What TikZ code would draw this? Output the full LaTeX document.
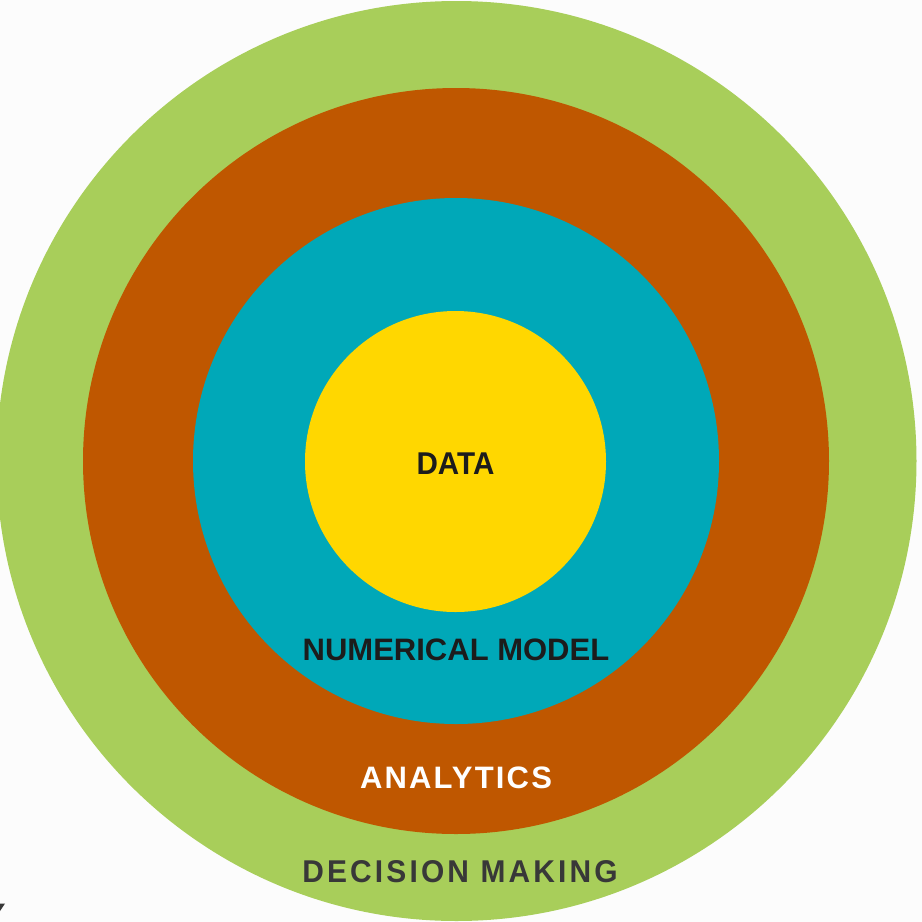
\documentclass[tikz,border=0pt]{standalone}
\usepackage{fontspec}
\setmainfont{Liberation Sans}
\newfontfamily\labelfont{Liberation Sans}[BoldFont={* Bold}]
\newfontfamily\narrowfont{Liberation Sans}[BoldFont={* Bold},FakeStretch=0.94]
\newfontfamily\spacedfont{Liberation Sans}[BoldFont={* Bold},LetterSpace=7]
\newfontfamily\widefont{Liberation Sans}[BoldFont={* Bold},FakeStretch=0.95,LetterSpace=10]
\definecolor{ringgreen}{HTML}{A8CE5A}
\definecolor{ringorange}{HTML}{BF5700}
\definecolor{ringteal}{HTML}{00A8B8}
\definecolor{coreyellow}{HTML}{FFD700}
\definecolor{inkdark}{HTML}{1C1C1C}
\definecolor{inkgray}{HTML}{383838}
\definecolor{paper}{HTML}{FCFCFC}
\begin{document}
\begin{tikzpicture}[x=1pt,y=-1pt,
  ring/.style={circle,inner sep=0pt,outer sep=0pt,draw=none},
  tag/.style={anchor=base,inner sep=0pt}]
  % canvas
  \fill[paper] (0,0) rectangle (922,922);
  \useasboundingbox (0,0) rectangle (922,922);
  % concentric layers
  \node[ring,fill=ringgreen,minimum size=920pt]  (decision) at (456.5,461) {};
  \node[ring,fill=ringorange,minimum size=746pt] (analytics) at (456,461) {};
  \node[ring,fill=ringteal,minimum size=526pt]   (model) at (456,461) {};
  \node[ring,fill=coreyellow,minimum size=301pt] (data) at (455.5,461.5) {};
  % labels
  \node[tag,text=inkdark,font=\narrowfont\bfseries\fontsize{31.5}{37}\selectfont]
    (datalbl) at (455.5,474.5) {DATA};
  \node[tag,text=inkdark,font=\labelfont\bfseries\fontsize{31}{37}\selectfont]
    (modellbl) at (456,660) {NUMERICAL MODEL};
  \node[tag,text=white,font=\spacedfont\bfseries\fontsize{31}{37}\selectfont]
    (analyticslbl) at (456,788) {ANALYTICS};
  \node[tag,text=inkgray,font=\widefont\bfseries\fontsize{31.5}{37}\selectfont]
    (decisionlbl) at (460,882) {DECISION MAKING};
  % small clipped mark in the lower left corner
  \fill[inkgray] (0,903.5) -- (5,903.5) -- (0,911) -- cycle;
\end{tikzpicture}
\end{document}
